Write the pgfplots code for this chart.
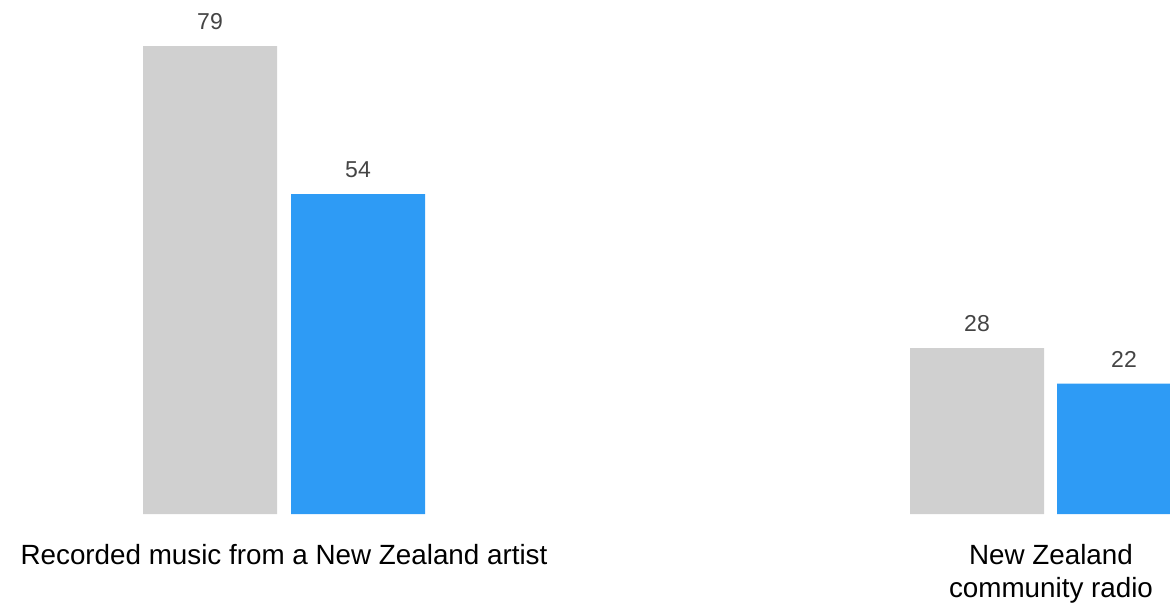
\documentclass[border=0pt]{standalone}
\usepackage{pgfplots}
\pgfplotsset{compat=1.18}
\usepackage{fontspec}
\setmainfont{Liberation Sans}
\definecolor{barGray}{HTML}{D0D0D0}
\definecolor{barBlue}{HTML}{2E9BF5}
\definecolor{numGray}{HTML}{444444}
\begin{document}
\begin{tikzpicture}
\useasboundingbox (0,-44pt) rectangle (585pt,257pt);
\begin{axis}[
  anchor=south west, at={(0,0)},
  scale only axis, width=585pt, height=257pt,
  xmin=0, xmax=1170, ymin=0, ymax=86.8,
  axis line style={draw=none}, major tick length=0pt,
  ytick=\empty,
  xtick={284,1051},
  xticklabels={Recorded music from a New Zealand artist, {New Zealand\\community radio}},
  xticklabel style={align=center, anchor=north, inner sep=0pt, yshift=-14.8pt,
    font=\fontsize{13.9}{16.8}\selectfont, text=black},
  /pgf/number format/assume math mode=true,
  ybar, bar width=134, bar shift=0pt,
  nodes near coords,
  nodes near coords style={anchor=south, inner sep=0pt, yshift=8pt,
    font=\fontsize{11.5}{14}\selectfont, text=numGray},
]
\addplot[fill=barGray, draw=none] coordinates {(210,79) (977,28)};
\addplot[fill=barBlue, draw=none] coordinates {(358,54) (1124,22)};
\end{axis}
\end{tikzpicture}
\end{document}
